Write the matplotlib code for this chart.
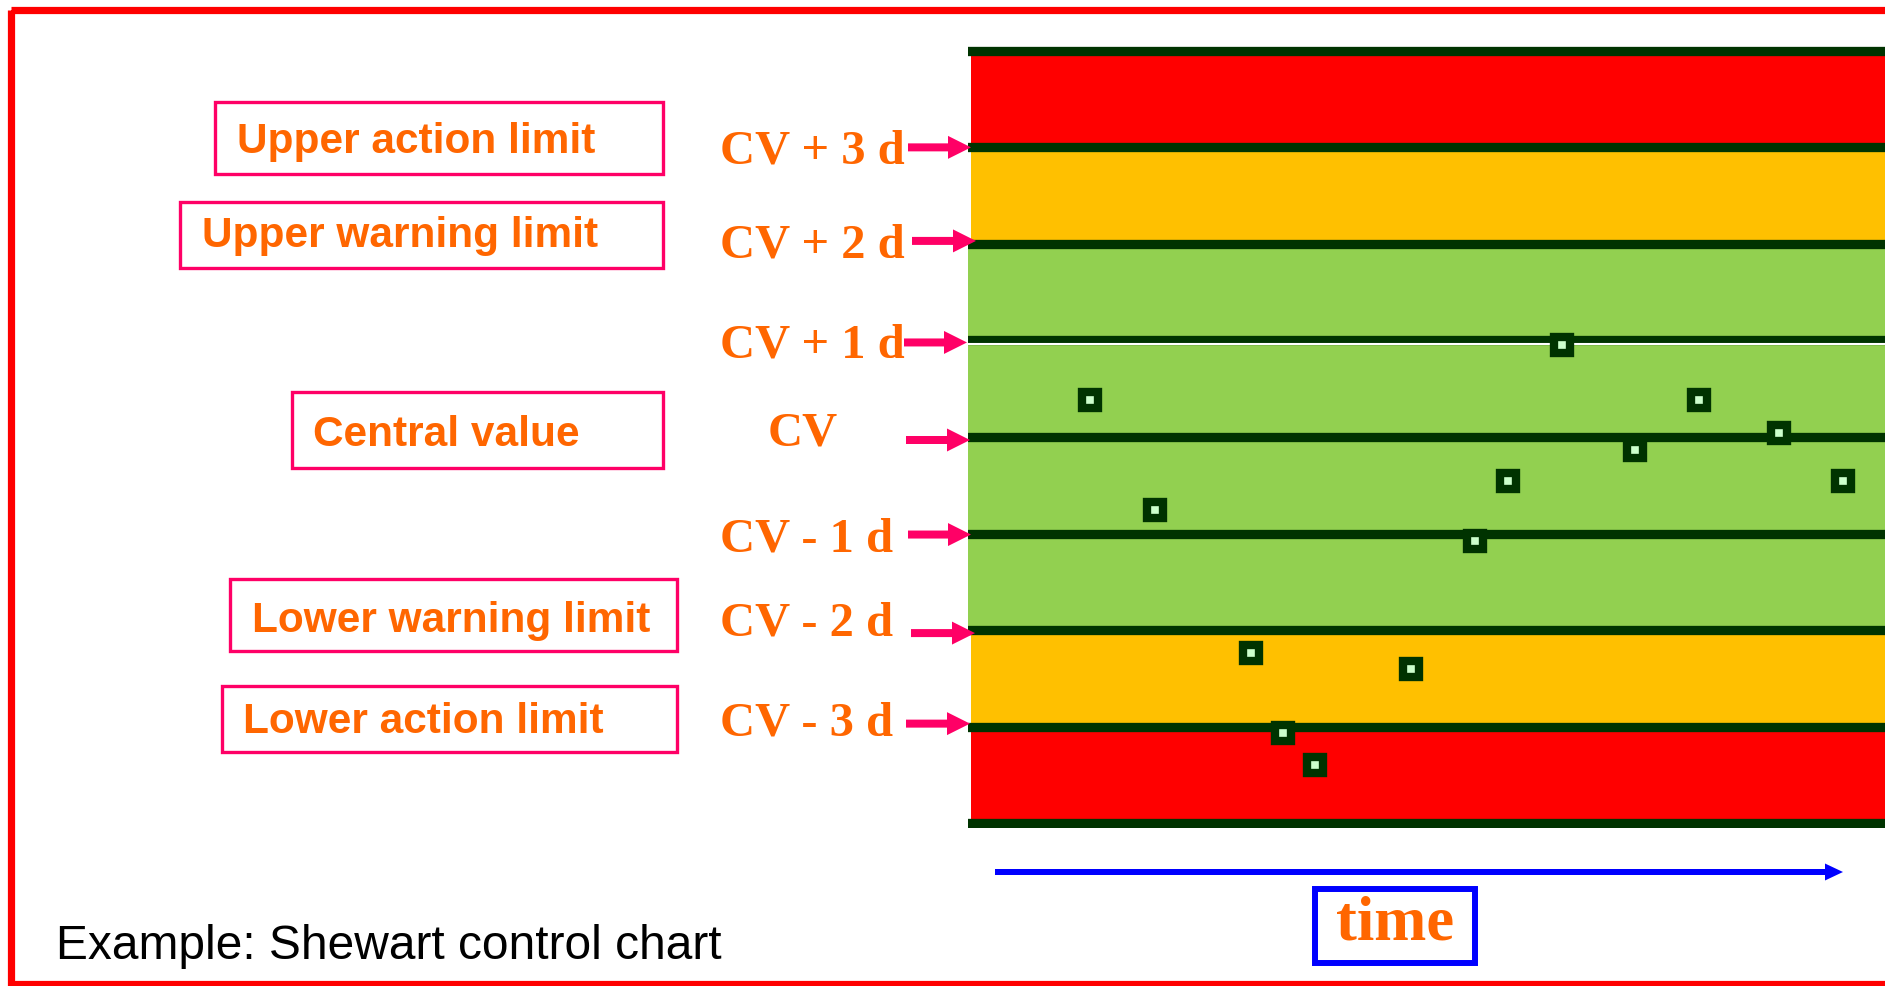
import matplotlib
matplotlib.use("Agg")
import matplotlib.pyplot as plt
from matplotlib.patches import Rectangle, FancyArrow

# chart values (in units of d around the central value)
limit_labels = ["CV + 3 d", "CV + 2 d", "CV + 1 d", "CV", "CV - 1 d", "CV - 2 d", "CV - 3 d"]
limit_levels = [3, 2, 1, 0, -1, -2, -3]
zone_lo = [3, 2, -2, -3, -4]
zone_hi = [4, 3, 2, -2, -3]
zone_colors = ["#FF0000", "#FFC000", "#92D050", "#FFC000", "#FF0000"]
box_labels = ["Upper action limit", "Upper warning limit", "Central value",
              "Lower warning limit", "Lower action limit"]
times = [13.0, 20.1, 30.6, 34.1, 37.6, 48.1, 55.1, 58.7, 64.7, 72.6, 79.6, 88.4, 95.4]
values = [0.38, -0.76, -2.24, -3.07, -3.40, -2.40, -1.08, -0.46, 0.95, -0.13, 0.38, 0.04, -0.46]

W, H = 1885, 987
ORANGE = "#FF6600"
PINK = "#FF0066"
DARK = "#003300"
SERIF = "Liberation Serif"
SANS = "Liberation Sans"

fig = plt.figure(figsize=(W / 100, H / 100), dpi=100)
fig.patch.set_facecolor("white")

# main chart area
ax = fig.add_axes([968 / W, 1 - 829 / H, (W - 968) / W, (829 - 47) / H])
ax.set_xlim(-0.33, 100)
ax.set_ylim(-4.05, 4.05)
ax.axis("off")
x0 = 0.33 / 100.33
for lo, hi, c in zip(zone_lo, zone_hi, zone_colors):
    ax.axhspan(lo, hi, xmin=0 if c == "#92D050" else x0, color=c, lw=0, zorder=1)
for lev in [4] + limit_levels + [-4]:
    ax.axhline(lev, xmin=x0, color=DARK, lw=6.7, zorder=2)
ax.axhline(0.965, color="white", lw=1.5, zorder=2)
ax.plot(times, values, "s", ms=11.5, mfc="#CCFFCC", mec=DARK, mew=6, ls="none", zorder=3)

# overlay in pixel coordinates for annotations
ov = fig.add_axes([0, 0, 1, 1], zorder=5)
ov.set_xlim(0, W)
ov.set_ylim(H, 0)
ov.axis("off")
ov.patch.set_alpha(0)

# red slide frame
ov.add_patch(Rectangle((11, 11), W + 20, 974, fill=False, ec="#FF0000", lw=5.2))

# limit labels and arrows
label_x = [720, 720, 720, 768, 720, 720, 720]
label_base = [163, 257, 357, 446, 552, 635, 736]
arrow_tail = [908, 912, 904, 906, 908, 911, 906]
arrow_tip = [971, 976, 967, 970, 971, 975, 970]
arrow_dy = [0, -3, 2, 3, 1, 3, -3]
for lab, lev, lx, lb, t0, t1, dy in zip(limit_labels, limit_levels, label_x, label_base,
                                        arrow_tail, arrow_tip, arrow_dy):
    ov.text(lx, lb, lab, color=ORANGE, fontsize=35, fontweight="bold",
            family=SERIF, ha="left", va="baseline")
    y = H - ax.transData.transform((0, lev))[1] + dy
    ov.add_patch(FancyArrow(t0, y, t1 - t0, 0, width=8, head_width=23, head_length=23,
                            length_includes_head=True, color=PINK, lw=0))

# boxed descriptions
boxes = [(215, 103, 663, 175, 237, 153),
         (180, 203, 663, 269, 202, 247),
         (292, 393, 663, 469, 313, 446),
         (230, 580, 677, 652, 252, 632),
         (222, 687, 677, 753, 243, 733)]
for lab, (l, t, r, b, tx, tb) in zip(box_labels, boxes):
    ov.add_patch(Rectangle((l, t), r - l, b - t, fill=False, ec=PINK, lw=2.4))
    ov.text(tx, tb, lab, color=ORANGE, fontsize=30.5, fontweight="bold",
            family=SANS, ha="left", va="baseline")

# time axis
ov.add_patch(FancyArrow(995, 873, 848, 0, width=6, head_width=17, head_length=18,
                        length_includes_head=True, color="#0000FF", lw=0))
ov.add_patch(Rectangle((1315, 890), 160, 74, fill=False, ec="#0000FF", lw=4.3))
ov.text(1395, 939, "time", color=ORANGE, fontsize=45, fontweight="bold",
        family=SERIF, ha="center", va="baseline")

ov.text(56, 959, "Example: Shewart control chart", color="black", fontsize=34.5,
        family=SANS, ha="left", va="baseline")

fig.savefig("out.png", dpi=100)
